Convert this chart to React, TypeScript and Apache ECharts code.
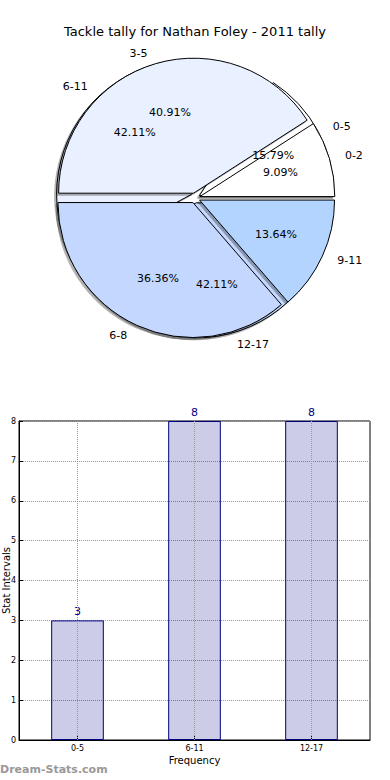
import React, { useEffect, useRef } from 'react';
import * as echarts from 'echarts';

const titleText = 'Tackle tally for Nathan Foley - 2011 tally';
// Pie A (broad intervals) – also used by the bar chart
const broadCategories = ['0-5', '6-11', '12-17'];
const broadValues = [3, 8, 8];
// Pie B (fine intervals)
const fineCategories = ['0-2', '3-5', '6-8', '9-11'];
const fineValues = [2, 9, 8, 3];
// Bar axis
const yMin = 0;
const yMax = 8;
const yStep = 1;
const xAxisName = 'Frequency';
const yAxisName = 'Stat Intervals';
const watermark = 'Dream-Stats.com';

const FONT = 'DejaVu Sans';
const pieColors = ['#ffffff', '#e9f0ff', '#c4d8ff', '#b3d4ff'];
const CENTER: [number, number] = [195, 198];
const R = 135;
const OFFSET = 5;

const sum = (a: number[]) => a.reduce((s, v) => s + v, 0);

function fillPie(cats: string[], vals: number[]) {
  return {
    type: 'pie',
    center: CENTER,
    radius: R,
    startAngle: 0,
    clockwise: false,
    selectedMode: 'multiple',
    selectedOffset: OFFSET,
    avoidLabelOverlap: false,
    silent: true,
    label: {
      show: true,
      position: 'outside',
      formatter: '{b}',
      fontSize: 11,
      color: '#000',
      fontFamily: FONT,
    },
    labelLine: { show: false, length: 11, length2: 0 },
    itemStyle: {
      borderColor: '#000',
      borderWidth: 1,
      shadowColor: 'rgba(0,0,0,0.3)',
      shadowBlur: 1,
      shadowOffsetX: -2,
      shadowOffsetY: 2,
    },
    data: cats.map((c, i) => ({
      name: c,
      value: vals[i],
      selected: true,
      itemStyle: { color: pieColors[i] },
    })),
  };
}

function pctPie(cats: string[], vals: number[]) {
  const total = sum(vals);
  return {
    type: 'pie',
    center: CENTER,
    radius: [R * 0.2, R],
    startAngle: 0,
    clockwise: false,
    selectedMode: 'multiple',
    selectedOffset: OFFSET,
    avoidLabelOverlap: false,
    silent: true,
    label: {
      show: true,
      position: 'inner',
      formatter: (p: any) => ((p.value / total) * 100).toFixed(2) + '%',
      fontSize: 11,
      color: '#000',
      fontFamily: FONT,
    },
    labelLine: { show: false },
    itemStyle: { color: 'rgba(0,0,0,0)', borderWidth: 0 },
    data: cats.map((c, i) => ({ name: c, value: vals[i], selected: true })),
  };
}

export default function App() {
  const ref = useRef<HTMLDivElement>(null);
  useEffect(() => {
    if (!ref.current) return;
    const chart = echarts.init(ref.current, undefined, { renderer: 'svg' });
    chart.setOption({
      animation: false,
      backgroundColor: '#fff',
      title: {
        text: titleText,
        left: 'center',
        top: 20,
        textStyle: { fontSize: 13, fontWeight: 'normal', color: '#000', fontFamily: FONT },
      },
      grid: {
        left: 19,
        right: 20,
        top: 421,
        bottom: 40,
        show: true,
        borderColor: '#000',
        borderWidth: 1,
        backgroundColor: 'transparent',
        containLabel: false,
        outerBoundsMode: 'none',
      },
      xAxis: {
        type: 'category',
        data: broadCategories,
        name: xAxisName,
        nameLocation: 'middle',
        nameGap: 15,
        nameMoveOverlap: false,
        nameTextStyle: { fontSize: 10, color: '#000', fontFamily: FONT },
        axisLine: { show: true, lineStyle: { color: '#000' } },
        axisTick: { show: true, inside: true, alignWithLabel: true, length: 4, lineStyle: { color: '#000' } },
        axisLabel: { fontSize: 8, color: '#000', margin: 4, fontFamily: FONT },
        splitLine: { show: false },
      },
      yAxis: {
        type: 'value',
        min: yMin,
        max: yMax,
        interval: yStep,
        name: yAxisName,
        nameLocation: 'middle',
        nameGap: 8,
        nameMoveOverlap: false,
        nameRotate: 90,
        nameTextStyle: { fontSize: 10, color: '#000', fontFamily: FONT },
        axisLine: { show: true, lineStyle: { color: '#000' } },
        axisTick: { show: true, inside: true, length: 4, lineStyle: { color: '#000' } },
        axisLabel: { fontSize: 8, color: '#000', margin: 3, fontFamily: FONT },
        splitLine: { show: true, lineStyle: { type: 'dotted', color: '#999', width: 1 } },
      },
      graphic: [
        {
          type: 'text',
          left: 0,
          top: 764,
          style: { text: watermark, fill: '#999', font: 'bold 11px "DejaVu Sans"' },
        },
      ],
      series: [
        fillPie(broadCategories, broadValues),
        fillPie(fineCategories, fineValues),
        pctPie(broadCategories, broadValues),
        pctPie(fineCategories, fineValues),
        {
          type: 'bar',
          data: broadValues,
          barWidth: '45%',
          silent: true,
          itemStyle: { color: 'rgba(0,0,128,0.2)', borderColor: '#000080', borderWidth: 1 },
          label: { show: true, position: 'top', color: '#000080', fontSize: 11, distance: 3, fontFamily: FONT },
          markLine: {
            silent: true,
            symbol: 'none',
            label: { show: false },
            lineStyle: { type: 'dotted', color: '#999', width: 1 },
            data: broadCategories.map((c) => ({ xAxis: c })),
          },
        },
      ],
    });
    return () => chart.dispose();
  }, []);
  return (
    <div
      ref={ref}
      style={{ position: 'fixed', left: 0, top: 0, width: 390, height: 780, background: '#fff' }}
    />
  );
}
